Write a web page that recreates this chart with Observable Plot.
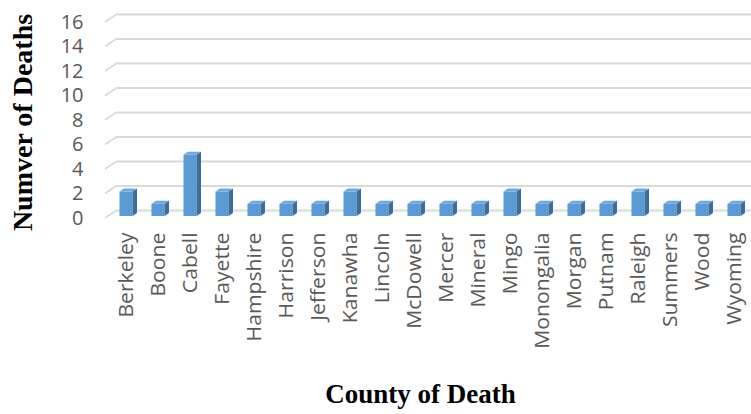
<!DOCTYPE html>
<html>
<head>
<meta charset="utf-8">
<script src="https://cdn.jsdelivr.net/npm/d3@7"></script>
<script src="https://cdn.jsdelivr.net/npm/@observablehq/plot@0.6"></script>
<style>
  html, body { margin: 0; padding: 0; background: #fff; }
  svg { display: block; }
</style>
</head>
<body>
<div id="chart"></div>
<script>
const counties = ["Berkeley", "Boone", "Cabell", "Fayette", "Hampshire", "Harrison", "Jefferson", "Kanawha", "Lincoln", "McDowell", "Mercer", "Mineral", "Mingo", "Monongalia", "Morgan", "Putnam", "Raleigh", "Summers", "Wood", "Wyoming"];
const deaths = [2, 1, 5, 2, 1, 1, 1, 2, 1, 1, 1, 1, 2, 1, 1, 1, 2, 1, 1, 1];
const yTicks = [0, 2, 4, 6, 8, 10, 12, 14, 16];
const xTitle = "County of Death";
const yTitle = "Numver of Deaths";

const data = counties.map((c, i) => ({county: c, deaths: deaths[i]}));

// 3D geometry (pixels)
const FLOOR_DX = 12, FLOOR_DY = -8, FLOOR_LEFT = 4;
const BAR_W = 13, BAR_DX = 4.5, BAR_DY = -3, BAR_LIFT = 2;
const LABEL_STRETCH = 1.06;
const gridColor = "#d9d9d9";

// diagonal floor/wall connectors of the gridlines
function gridDiagonals(index, {x, y}) {
  const g = d3.create("svg:g").attr("stroke", gridColor).attr("stroke-width", 1.6).attr("fill", "none");
  const x0 = x.range()[0] - FLOOR_LEFT;
  for (const v of yTicks) {
    g.append("line")
      .attr("x1", x0).attr("y1", y(v))
      .attr("x2", x0 + FLOOR_DX).attr("y2", y(v) + FLOOR_DY);
  }
  return g.node();
}

// side and top faces of the 3D bars
function barFaces(index, {x, y}) {
  const g = d3.create("svg:g");
  const bw = x.bandwidth();
  data.forEach(d => {
    const cx = x(d.county) + bw / 2;
    const l = cx - BAR_W / 2, r = cx + BAR_W / 2;
    const t = y(d.deaths) - BAR_LIFT, b = y(0) - BAR_LIFT;
    g.append("path")
      .attr("d", `M${r},${b}L${r + BAR_DX},${b + BAR_DY}L${r + BAR_DX},${t + BAR_DY}L${r},${t}Z`)
      .attr("fill", "#3c6d9c");
    g.append("path")
      .attr("d", `M${l},${t}L${r},${t}L${r + BAR_DX},${t + BAR_DY}L${l + BAR_DX},${t + BAR_DY}Z`)
      .attr("fill", "#6ea8de");
  });
  return g.node();
}

const chart = Plot.plot({
  width: 751,
  height: 414,
  marginLeft: 109,
  marginRight: 0,
  marginTop: 22,
  marginBottom: 196,
  style: {fontFamily: "'Open Sans', sans-serif", background: "#fff"},
  x: {type: "band", domain: counties, padding: 0},
  y: {domain: [0, 16]},
  marks: [
    Plot.ruleY(yTicks, {stroke: gridColor, strokeWidth: 1.8, dx: FLOOR_DX - FLOOR_LEFT, dy: FLOOR_DY}),
    gridDiagonals,
    Plot.barY(data, {x: "county", y: "deaths", fill: "#5b9bd5", dy: -BAR_LIFT,
      render(index, scales, values, dimensions, context, next) {
        const el = next(index, scales, values, dimensions, context);
        d3.select(el).selectAll("rect").each(function() {
          const xx = +this.getAttribute("x"), w = +this.getAttribute("width");
          this.setAttribute("x", xx + (w - BAR_W) / 2);
          this.setAttribute("width", BAR_W);
        });
        return el;
      }}),
    barFaces,
    Plot.axisY(yTicks, {tickSize: 0, tickPadding: 26, fontSize: 20, fill: "#595959", label: null}),
    Plot.axisX({tickSize: 0, tickPadding: 14, tickRotate: -90, fontSize: 20, fill: "#595959", label: null,
      render(index, scales, values, dimensions, context, next) {
        const el = next(index, scales, values, dimensions, context);
        d3.select(el).selectAll("text").each(function() {
          const tr = this.getAttribute("transform") || "";
          this.setAttribute("transform", tr + ` scale(${LABEL_STRETCH},1)`);
        });
        return el;
      }}),
    Plot.text([xTitle], {frameAnchor: "bottom", dx: -10, dy: 184, lineAnchor: "bottom",
      fontSize: 27, fontWeight: "bold", fontFamily: "'Liberation Serif', 'Times New Roman', serif", fill: "#000"}),
    Plot.text([yTitle], {frameAnchor: "left", dx: -86, dy: 2, rotate: -90, textAnchor: "middle",
      fontSize: 28, fontWeight: "bold", fontFamily: "'Liberation Serif', 'Times New Roman', serif", fill: "#000"})
  ]
});
document.getElementById("chart").append(chart);
</script>
</body>
</html>
